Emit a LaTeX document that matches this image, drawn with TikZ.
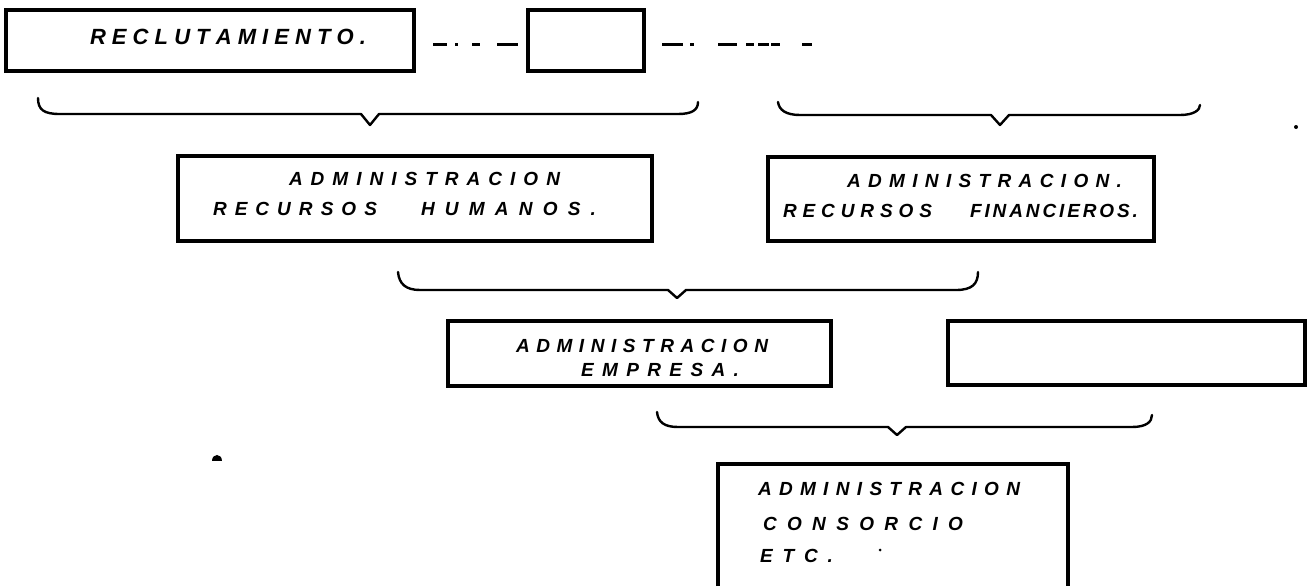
\documentclass[tikz,border=0pt]{standalone}
\usepackage{fontspec}
\newfontfamily\handfont{Liberation Sans}
\ExplSyntaxOn
\NewDocumentCommand\spreadtext{mm}{\hbox~to~#1{\tl_map_inline:nn{#2}{##1\hfil}\unskip}}
\ExplSyntaxOff
\tikzset{
  boxst/.style={draw, line width=3.5pt, inner sep=0pt, outer sep=0pt, anchor=north west},
  boxline/.style={line width=3.5pt, line join=miter},
  brace/.style={line width=2.4pt, line cap=round, line join=round},
  hw/.style={font=\handfont\bfseries\itshape\fontsize{19}{21}\selectfont, inner sep=0pt, outer sep=0pt, anchor=base west},
  hwbig/.style={hw, font=\handfont\bfseries\itshape\fontsize{22}{24}\selectfont},
  dashln/.style={line width=3pt}
}
\begin{document}
\begin{tikzpicture}[x=1pt,y=-1pt]
\fill[white] (0,0) rectangle (1316,586);
\useasboundingbox (0,0) rectangle (1316,586);

% top row
\node[boxst, minimum width=408pt, minimum height=61pt] (recl) at (6,10) {};
\node[hwbig] (trecl) at (90,45) {\spreadtext{276pt}{RECLUTAMIENTO.}};
\node[boxst, minimum width=116pt, minimum height=61pt] (small) at (528,10) {};
\coordinate (dend) at (812,44.5);
\draw[dashln, dash pattern=on 0pt off 19pt on 14pt off 8pt on 3pt off 14pt on 8pt off 17pt on 21pt off 20pt]
  ([yshift=-4pt]recl.east) -- ([yshift=-4pt]small.west);
\draw[dashln, dash pattern=on 0pt off 18pt on 21pt off 7pt on 4pt off 24pt on 19pt off 9pt on 8pt off 4pt on 11pt off 2pt on 9pt off 22pt on 10pt off 20pt]
  ([yshift=-4pt]small.east) -- (dend);

% braces row 1
\coordinate (b1l) at (38,98); \coordinate (b1t) at (370,125); \coordinate (b1r) at (698,102);
\draw[brace] (b1l) .. controls (38,110) and (44,114) .. (60,114) -- (361,114) -- (b1t) -- (379,114) -- (678,114) .. controls (692,114) and (698,110) .. (b1r);
\coordinate (b2l) at (778,102); \coordinate (b2t) at (1000,125); \coordinate (b2r) at (1200,105);
\draw[brace] (b2l) .. controls (779,110) and (786,115) .. (800,115) -- (991,115) -- (b2t) -- (1009,115) -- (1180,115) .. controls (1194,115) and (1200,110) .. (b2r);
\fill (1296,127) circle (2pt);

% second row
\node[boxst, minimum width=474pt, minimum height=85pt] (rh) at (178,156) {};
\node[hw] (rh1) at (289,185) {\spreadtext{271pt}{ADMINISTRACION}};
\node[hw] (rh2) at (213,215) {\spreadtext{164pt}{RECURSOS}};
\node[hw] (rh3) at (421,215) {\spreadtext{175pt}{HUMANOS.}};
\node[boxst, minimum width=386pt, minimum height=84pt] (rf) at (768,157) {};
\node[hw] (rf1) at (847,187) {\spreadtext{275pt}{ADMINISTRACION.}};
\node[hw] (rf2) at (783,217) {\spreadtext{149pt}{RECURSOS}};
\node[hw] (rf3) at (970,217) {\spreadtext{168pt}{FINANCIEROS.}};

% brace row 2
\coordinate (b3l) at (398,272); \coordinate (b3t) at (677,298); \coordinate (b3r) at (978,272);
\draw[brace] (b3l) .. controls (399,284) and (406,290) .. (420,290) -- (668,290) -- (b3t) -- (686,290) -- (956,290) .. controls (972,290) and (978,284) .. (b3r);

% third row
\node[boxst, minimum width=383pt, minimum height=65pt] (emp) at (448,321) {};
\node[hw] (emp1) at (516,352) {\spreadtext{252pt}{ADMINISTRACION}};
\node[hw] (emp2) at (581,376) {\spreadtext{158pt}{EMPRESA.}};
\node[boxst, minimum width=357pt, minimum height=64pt] (empty) at (948,321) {};

% brace row 3
\coordinate (b4l) at (657,412); \coordinate (b4t) at (897,435); \coordinate (b4r) at (1152,415);
\draw[brace] (b4l) .. controls (658,422) and (664,427) .. (678,427) -- (888,427) -- (b4t) -- (906,427) -- (1132,427) .. controls (1146,427) and (1152,422) .. (b4r);
\fill (212,461) .. controls (212,453) and (222,453) .. (222,461) -- cycle;

% last box (open at the bottom)
\node[inner sep=0pt, outer sep=0pt, anchor=north west, minimum width=350pt, minimum height=122pt] (last) at (718,464) {};
\draw[boxline] (last.south west) -- (last.north west) -- (last.north east) -- (last.south east);
\node[hw] (l1) at (758,495) {\spreadtext{262pt}{ADMINISTRACION}};
\node[hw] (l2) at (763,530) {\spreadtext{200pt}{CONSORCIO}};
\node[hw] (l3) at (760,562) {\spreadtext{73pt}{ETC.}};
\fill (880,550) circle (1.5pt);
\end{tikzpicture}
\end{document}
